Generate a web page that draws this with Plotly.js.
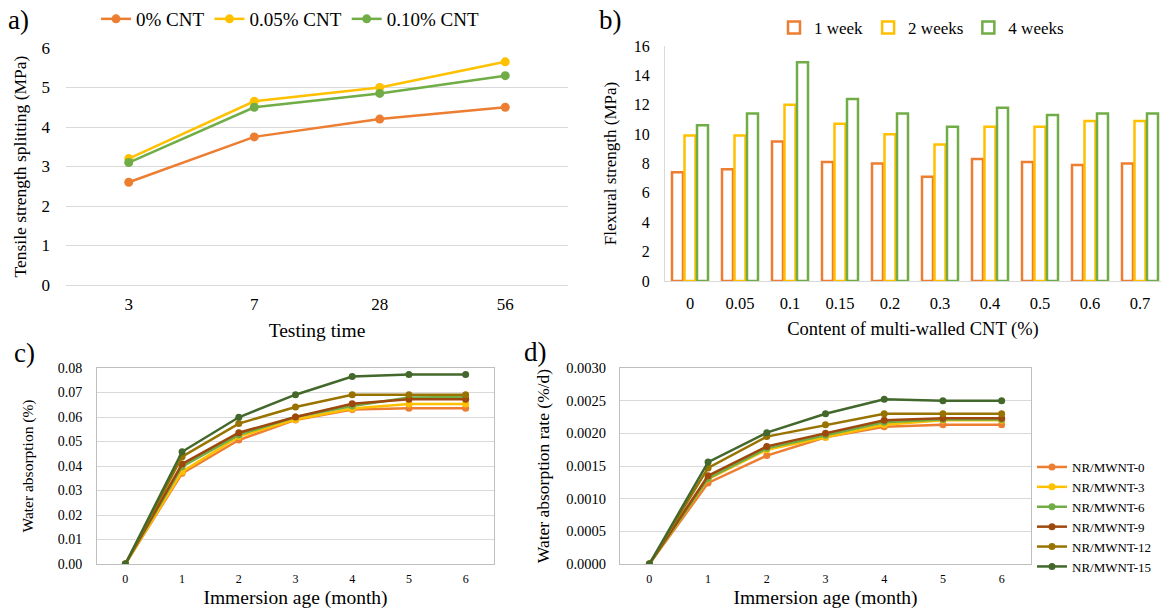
<!DOCTYPE html>
<html>
<head>
<meta charset="utf-8">
<script src="https://cdn.plot.ly/plotly-3.0.1.min.js"></script>
<style>html,body{margin:0;padding:0;background:#fff;}#chart{width:1161px;height:615px;}</style>
</head>
<body>
<div id="chart"></div>
<script>
// Panel a
const testingTime = ["3", "7", "28", "56"];
const tensile0 = [2.6, 3.75, 4.2, 4.5];
const tensile005 = [3.2, 4.65, 5.0, 5.65];
const tensile010 = [3.1, 4.5, 4.85, 5.3];
const namesA = ["0% CNT", "0.05% CNT", "0.10% CNT"];

// Panel b
const cntContent = ["0", "0.05", "0.1", "0.15", "0.2", "0.3", "0.4", "0.5", "0.6", "0.7"];
const flex1w = [7.4, 7.6, 9.5, 8.1, 8.0, 7.1, 8.3, 8.1, 7.9, 8.0];
const flex2w = [9.9, 9.9, 12.0, 10.7, 10.0, 9.3, 10.5, 10.5, 10.9, 10.9];
const flex4w = [10.6, 11.4, 14.9, 12.4, 11.4, 10.5, 11.8, 11.3, 11.4, 11.4];
const namesB = ["1 week", "2 weeks", "4 weeks"];

// Panel c & d
const months = [0, 1, 2, 3, 4, 5, 6];
const namesCD = ["NR/MWNT-0", "NR/MWNT-3", "NR/MWNT-6", "NR/MWNT-9", "NR/MWNT-12", "NR/MWNT-15"];
const absorb0  = [0, 0.0370, 0.0506, 0.0588, 0.0631, 0.0636, 0.0636];
const absorb3  = [0, 0.0377, 0.0520, 0.0590, 0.0635, 0.0653, 0.0653];
const absorb6  = [0, 0.0397, 0.0527, 0.0600, 0.0645, 0.0680, 0.0682];
const absorb9  = [0, 0.0408, 0.0536, 0.0600, 0.0654, 0.0672, 0.0672];
const absorb12 = [0, 0.0438, 0.0573, 0.0641, 0.0691, 0.0691, 0.0691];
const absorb15 = [0, 0.0458, 0.0599, 0.0691, 0.0765, 0.0773, 0.0773];

const rate0  = [0, 0.00124, 0.00166, 0.00194, 0.00210, 0.00213, 0.00213];
const rate3  = [0, 0.00130, 0.00175, 0.00194, 0.00213, 0.00220, 0.00220];
const rate6  = [0, 0.00131, 0.00177, 0.00197, 0.00217, 0.00221, 0.00221];
const rate9  = [0, 0.00135, 0.00180, 0.00200, 0.00220, 0.00223, 0.00223];
const rate12 = [0, 0.00147, 0.00195, 0.00213, 0.00230, 0.00230, 0.00230];
const rate15 = [0, 0.00156, 0.00201, 0.00230, 0.00252, 0.00250, 0.00250];

const cA = ["#ED7D31", "#FFC000", "#70AD47"];
const cCD = ["#ED7D31", "#FFC000", "#70AD47", "#9E480E", "#997300", "#43682B"];
const FONT = "Liberation Serif";

const traces = [];
[tensile0, tensile005, tensile010].forEach((v, i) => {
  traces.push({type: "scatter", mode: "lines+markers", x: testingTime, y: v, name: namesA[i],
    xaxis: "x", yaxis: "y", legend: "legend",
    line: {color: cA[i], width: 2.5}, marker: {color: cA[i], size: 9}});
});
[flex1w, flex2w, flex4w].forEach((v, i) => {
  traces.push({type: "bar", x: cntContent, y: v, name: namesB[i],
    xaxis: "x2", yaxis: "y2", legend: "legend2",
    marker: {color: "#ffffff", line: {color: cA[i], width: 2.5}}});
});
[absorb0, absorb3, absorb6, absorb9, absorb12, absorb15].forEach((v, i) => {
  traces.push({type: "scatter", mode: "lines+markers", x: months, y: v, name: namesCD[i],
    xaxis: "x3", yaxis: "y3", showlegend: false,
    line: {color: cCD[i], width: 2.5}, marker: {color: cCD[i], size: 7}});
});
[rate0, rate3, rate6, rate9, rate12, rate15].forEach((v, i) => {
  traces.push({type: "scatter", mode: "lines+markers", x: months, y: v, name: namesCD[i],
    xaxis: "x4", yaxis: "y4", legend: "legend3",
    line: {color: cCD[i], width: 2.5}, marker: {color: cCD[i], size: 7}});
});

const W = 1161, H = 615;
const px = v => v / W, py = v => 1 - v / H;
const tf = s => ({family: FONT, size: s, color: "#000"});

const layout = {
  width: W, height: H, margin: {l: 0, r: 0, t: 0, b: 0},
  paper_bgcolor: "#fff", plot_bgcolor: "#fff",
  font: {family: FONT, color: "#000"},
  barmode: "group", bargap: 0.25, bargroupgap: 0.12,
  xaxis: {domain: [px(66), px(568)], anchor: "y", type: "category", range: [-0.5, 3.5],
    showgrid: false, showline: false, zeroline: false, ticks: "", tickfont: tf(17), ticklabelstandoff: 7,
    title: {text: "Testing time", font: tf(19.5), standoff: 10}},
  yaxis: {domain: [py(285), py(48)], anchor: "x", range: [0, 6], dtick: 1,
    showgrid: true, gridcolor: "#d9d9d9", gridwidth: 1, zeroline: true, zerolinecolor: "#d9d9d9",
    showline: false, ticks: "", tickfont: tf(17), ticklabelstandoff: 15,
    title: {text: "Tensile strength splitting (MPa)", font: tf(17.5), standoff: 10}},
  xaxis2: {domain: [px(665), 1], anchor: "y2", type: "category", range: [-0.5, 9.42],
    showgrid: false, zeroline: false, showline: true, linecolor: "#d9d9d9", linewidth: 1,
    ticks: "", tickfont: tf(16.5), ticklabelstandoff: 7,
    title: {text: "Content of multi-walled CNT (%)", font: tf(18.5), standoff: 10}},
  yaxis2: {domain: [py(281), py(46)], anchor: "x2", range: [0, 16], dtick: 2,
    showgrid: false, zeroline: false, showline: true, linecolor: "#d9d9d9", linewidth: 1,
    ticks: "", tickfont: tf(16), ticklabelstandoff: 11,
    title: {text: "Flexural strength (MPa)", font: tf(17), standoff: 12}},
  xaxis3: {domain: [px(97), px(494)], anchor: "y3", range: [-0.5, 6.5], dtick: 1,
    showgrid: false, zeroline: false, showline: true, mirror: true, linecolor: "#bfbfbf", linewidth: 1,
    ticks: "", tickfont: tf(12), ticklabelstandoff: 4,
    title: {text: "Immersion age (month)", font: tf(19.5), standoff: 4}},
  yaxis3: {domain: [py(564), py(368)], anchor: "x3", range: [0, 0.08], dtick: 0.01, tickformat: ".2f",
    showgrid: true, gridcolor: "#d9d9d9", zeroline: false, showline: true, mirror: true, linecolor: "#bfbfbf", linewidth: 1,
    ticks: "", tickfont: tf(14), ticklabelstandoff: 11,
    title: {text: "Water absorption (%)", font: tf(15.5), standoff: 20}},
  xaxis4: {domain: [px(620), px(1031)], anchor: "y4", range: [-0.5, 6.5], dtick: 1,
    showgrid: false, zeroline: false, showline: true, mirror: true, linecolor: "#bfbfbf", linewidth: 1,
    ticks: "", tickfont: tf(12), ticklabelstandoff: 4,
    title: {text: "Immersion age (month)", font: tf(19.5), standoff: 4}},
  yaxis4: {domain: [py(564), py(368)], anchor: "x4", range: [0, 0.003], dtick: 0.0005, tickformat: ".4f",
    showgrid: true, gridcolor: "#d9d9d9", zeroline: false, showline: true, mirror: true, linecolor: "#bfbfbf", linewidth: 1,
    ticks: "", tickfont: tf(14.5), ticklabelstandoff: 10,
    title: {text: "Water absorption rate (%/d)", font: tf(17.5), standoff: 12}},
  legend: {orientation: "h", x: px(96), y: py(0), xanchor: "left", yanchor: "top",
    font: tf(19), bgcolor: "rgba(0,0,0,0)", itemwidth: 30, traceorder: "normal"},
  legend2: {orientation: "h", x: px(774), y: py(10), xanchor: "left", yanchor: "top",
    font: tf(17), bgcolor: "rgba(0,0,0,0)", itemwidth: 30, traceorder: "normal"},
  legend3: {orientation: "v", x: px(1032), y: py(452), xanchor: "left", yanchor: "top",
    font: tf(13), bgcolor: "rgba(0,0,0,0)", itemwidth: 30, traceorder: "normal", tracegroupgap: 0},
  annotations: [
    {text: "a)", x: px(6), y: py(20), xref: "paper", yref: "paper", xanchor: "left", yanchor: "middle", showarrow: false, font: tf(27)},
    {text: "b)", x: px(597), y: py(20), xref: "paper", yref: "paper", xanchor: "left", yanchor: "middle", showarrow: false, font: tf(27)},
    {text: "c)", x: px(12), y: py(353), xref: "paper", yref: "paper", xanchor: "left", yanchor: "middle", showarrow: false, font: tf(27)},
    {text: "d)", x: px(522), y: py(352), xref: "paper", yref: "paper", xanchor: "left", yanchor: "middle", showarrow: false, font: tf(27)}
  ]
};

Plotly.newPlot("chart", traces, layout, {displayModeBar: false, responsive: false});
</script>
</body>
</html>
